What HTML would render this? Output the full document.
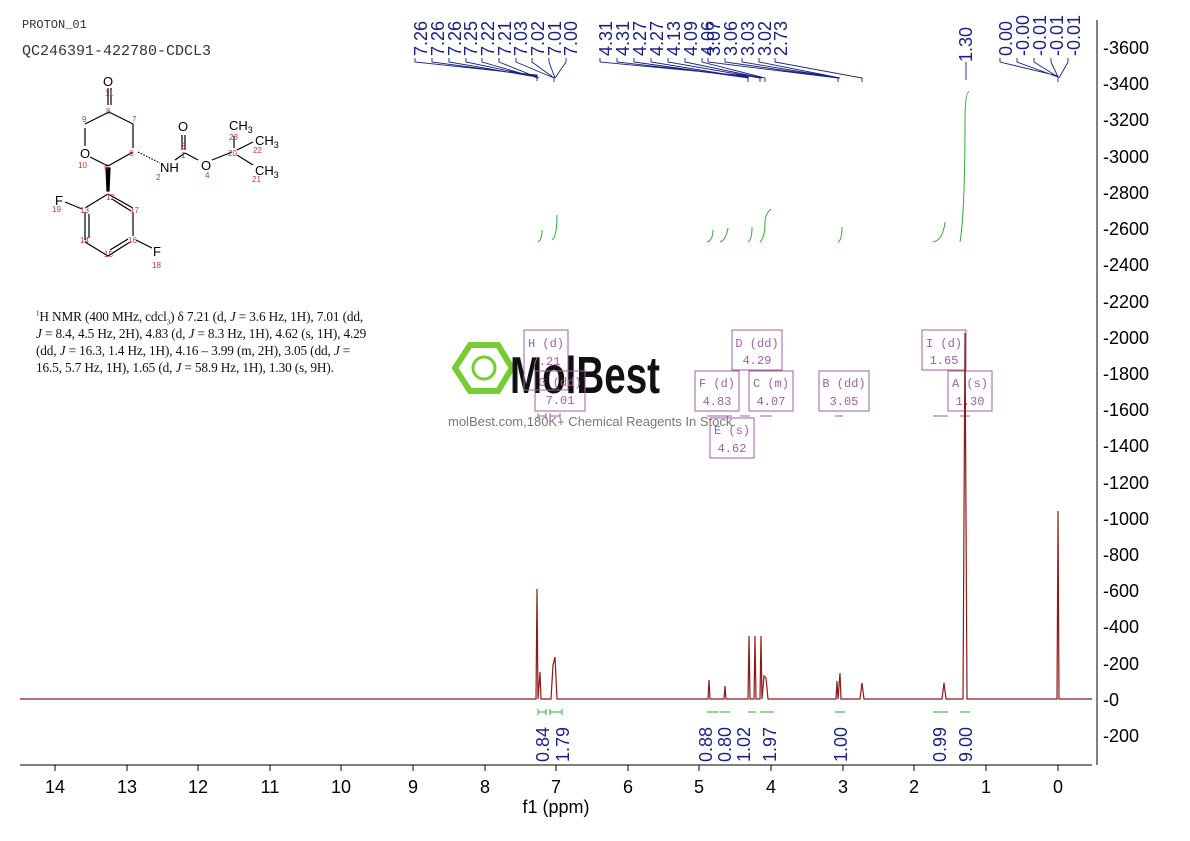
<!DOCTYPE html>
<html><head><meta charset="utf-8"><style>
body{margin:0;background:#fff;width:1190px;height:841px;overflow:hidden;font-family:"Liberation Sans",sans-serif}
.abs{position:absolute}
sup,sub{line-height:0;font-size:7px}
</style></head><body>
<div class="abs" style="left:22px;top:18px;font:12px 'Liberation Mono',monospace;color:#333">PROTON_01</div>
<div class="abs" style="left:22px;top:43px;font:15px 'Liberation Mono',monospace;color:#333">QC246391-422780-CDCL3</div>
<div class="abs" style="left:36px;top:308px;white-space:nowrap;font:13.3px/17px 'Liberation Serif',serif;letter-spacing:-0.15px;color:#111"><sup>1</sup>H NMR (400 MHz, cdcl<sub>3</sub>) δ 7.21 (d, <i>J</i> = 3.6 Hz, 1H), 7.01 (dd,<br><i>J</i> = 8.4, 4.5 Hz, 2H), 4.83 (d, <i>J</i> = 8.3 Hz, 1H), 4.62 (s, 1H), 4.29<br>(dd, <i>J</i> = 16.3, 1.4 Hz, 1H), 4.16 – 3.99 (m, 2H), 3.05 (dd, <i>J</i> =<br>16.5, 5.7 Hz, 1H), 1.65 (d, <i>J</i> = 58.9 Hz, 1H), 1.30 (s, 9H).</div>
<svg class="abs" style="left:0;top:0" width="1190" height="841" xmlns="http://www.w3.org/2000/svg" font-family="Liberation Sans, sans-serif">
<g stroke="#000" stroke-width="1.2" fill="none">
<line x1="108" y1="88" x2="108" y2="105"/><line x1="111" y1="88" x2="111" y2="105"/>
<line x1="109" y1="112" x2="85" y2="124"/><line x1="109" y1="112" x2="133" y2="124"/>
<line x1="85" y1="128" x2="85" y2="146"/><line x1="133" y1="124" x2="133" y2="148"/>
<line x1="90" y1="157" x2="108" y2="166"/><line x1="108" y1="166" x2="133" y2="152"/>
<line x1="138" y1="152" x2="160" y2="163" stroke-dasharray="1.5 1.5"/>
<line x1="175" y1="160" x2="185" y2="153"/><line x1="185" y1="153" x2="198" y2="160"/>
<line x1="182" y1="135" x2="182" y2="150"/><line x1="185" y1="135" x2="185" y2="150"/>
<line x1="212" y1="160" x2="232" y2="152"/><line x1="234" y1="148" x2="234" y2="136"/>
<line x1="237" y1="150" x2="253" y2="142"/><line x1="237" y1="155" x2="253" y2="165"/>
<polygon points="106,168 110,168 109,191 107,191" fill="#000"/>
<line x1="108" y1="194" x2="85" y2="208"/><line x1="108" y1="194" x2="133" y2="208"/><line x1="112" y1="199" x2="131" y2="211"/>
<line x1="85" y1="212" x2="85" y2="240"/><line x1="89" y1="214" x2="89" y2="238"/>
<line x1="133" y1="213" x2="133" y2="236"/><line x1="85" y1="242" x2="108" y2="256"/>
<line x1="108" y1="256" x2="130" y2="242"/><line x1="110" y1="250" x2="128" y2="239"/>
<line x1="136" y1="240" x2="152" y2="248"/><line x1="65" y1="202" x2="82" y2="209"/>
</g>
<g font-size="13" fill="#000"><text x="103" y="86">O</text><text x="80" y="158">O</text><text x="160" y="172">NH</text><text x="178" y="131">O</text><text x="201" y="170">O</text>
<text x="229" y="130">CH<tspan font-size="9" dy="3">3</tspan></text><text x="255" y="145">CH<tspan font-size="9" dy="3">3</tspan></text><text x="255" y="175">CH<tspan font-size="9" dy="3">3</tspan></text>
<text x="55" y="205">F</text><text x="153" y="256">F</text></g>
<g font-size="8" fill="#c33"><text x="105" y="96">11</text><text x="106" y="114">8</text><text x="82" y="122">9</text><text x="132" y="122">7</text><text x="78" y="168">10</text><text x="104" y="170">5</text><text x="129" y="156">6</text><text x="156" y="180">2</text><text x="181" y="149">3</text><text x="181" y="158">1</text><text x="205" y="178">4</text><text x="229" y="140">23</text><text x="228" y="156">20</text><text x="253" y="153">22</text><text x="252" y="182">21</text><text x="106" y="200">12</text><text x="80" y="213">13</text><text x="130" y="213">17</text><text x="80" y="243">14</text><text x="128" y="243">16</text><text x="104" y="257">15</text><text x="52" y="212">19</text><text x="152" y="268">18</text></g>
<line x1="20" y1="765" x2="1092" y2="765" stroke="#000"/>
<g stroke="#000"><line x1="55" y1="765" x2="55" y2="771"/><line x1="127" y1="765" x2="127" y2="771"/><line x1="198" y1="765" x2="198" y2="771"/><line x1="270" y1="765" x2="270" y2="771"/><line x1="341" y1="765" x2="341" y2="771"/><line x1="413" y1="765" x2="413" y2="771"/><line x1="485" y1="765" x2="485" y2="771"/><line x1="556" y1="765" x2="556" y2="771"/><line x1="628" y1="765" x2="628" y2="771"/><line x1="699" y1="765" x2="699" y2="771"/><line x1="771" y1="765" x2="771" y2="771"/><line x1="843" y1="765" x2="843" y2="771"/><line x1="914" y1="765" x2="914" y2="771"/><line x1="986" y1="765" x2="986" y2="771"/><line x1="1058" y1="765" x2="1058" y2="771"/></g>
<g font-size="18" text-anchor="middle" fill="#000"><text x="55" y="793">14</text><text x="127" y="793">13</text><text x="198" y="793">12</text><text x="270" y="793">11</text><text x="341" y="793">10</text><text x="413" y="793">9</text><text x="485" y="793">8</text><text x="556" y="793">7</text><text x="628" y="793">6</text><text x="699" y="793">5</text><text x="771" y="793">4</text><text x="843" y="793">3</text><text x="914" y="793">2</text><text x="986" y="793">1</text><text x="1058" y="793">0</text><text x="556" y="813">f1 (ppm)</text></g>
<line x1="1097" y1="20" x2="1097" y2="765" stroke="#000"/>
<g font-size="18" fill="#000">
<text x="1103" y="54">-3600</text><text x="1103" y="90">-3400</text><text x="1103" y="126">-3200</text><text x="1103" y="163">-3000</text><text x="1103" y="199">-2800</text><text x="1103" y="235">-2600</text><text x="1103" y="271">-2400</text><text x="1103" y="308">-2200</text><text x="1103" y="344">-2000</text><text x="1103" y="380">-1800</text><text x="1103" y="416">-1600</text><text x="1103" y="452">-1400</text><text x="1103" y="489">-1200</text><text x="1103" y="525">-1000</text><text x="1103" y="561">-800</text><text x="1103" y="597">-600</text><text x="1103" y="633">-400</text><text x="1103" y="670">-200</text><text x="1103" y="706">-0</text><text x="1103" y="742">-200</text></g>
<g><polygon points="455,368 470,345 498,345 512,368 498,391 470,391" fill="none" stroke="#7c3" stroke-width="6"/><circle cx="484" cy="368" r="11" fill="none" stroke="#7c3" stroke-width="3"/>
<text x="510" y="393" font-size="52" font-weight="bold" fill="#111" textLength="150" lengthAdjust="spacingAndGlyphs">MolBest</text>
<text x="448" y="426" font-size="13" fill="#777">molBest.com,180K+ Chemical Reagents In Stock.</text></g>
<g fill="none" stroke="#a060a0"><rect x="524" y="330" width="44" height="60"/><rect x="535" y="371" width="50" height="40"/><rect x="732" y="330" width="50" height="40"/><rect x="695" y="371" width="44" height="40"/><rect x="749" y="371" width="44" height="40"/><rect x="819" y="371" width="50" height="40"/><rect x="710" y="418" width="44" height="40"/><rect x="922" y="330" width="44" height="40"/><rect x="948" y="371" width="44" height="40"/></g>
<g font-family="Liberation Mono, monospace" font-size="12" fill="#a060a0" text-anchor="middle"><text x="546" y="347">H (d)</text><text x="546" y="365">7.21</text><text x="560" y="386">G (dd)</text><text x="560" y="404">7.01</text><text x="757" y="347">D (dd)</text><text x="757" y="364">4.29</text><text x="717" y="387">F (d)</text><text x="717" y="405">4.83</text><text x="771" y="387">C (m)</text><text x="771" y="405">4.07</text><text x="844" y="387">B (dd)</text><text x="844" y="405">3.05</text><text x="732" y="434">E (s)</text><text x="732" y="452">4.62</text><text x="944" y="347">I (d)</text><text x="944" y="364">1.65</text><text x="970" y="387">A (s)</text><text x="970" y="405">1.30</text></g>
<g stroke="#a060a0"><path d="M538 416h8M538 413v6M546 413v6M550 416h10M550 413v6M560 413v6M707 416h25M740 416h10M760 416h12M835 416h8M933 416h15M960 416h10"/></g>
<g stroke="#3a3" fill="none" stroke-width="1"><path d="M538 242 q4 -2 4 -12"/><path d="M552 240 q5 -4 5 -25"/><path d="M707 242 q6 -2 6 -12"/><path d="M720 242 q6 -2 8 -14"/><path d="M748 242 q4 -2 4 -15"/><path d="M760 242 q5 -5 5 -20 q0 -8 6 -13"/><path d="M838 242 q4 -2 4 -15"/><path d="M933 242 q10 -2 12 -20"/><path d="M960 242 q5 -30 5 -120 q0 -30 4 -30"/></g>
<g stroke="#3a3"><path d="M538 712h8M538 709v6M546 709v6M550 712h12M550 709v6M562 709v6M707 712h12M720 712h10M748 712h8M760 712h14M835 712h10M933 712h15M960 712h10"/></g>
<g font-size="18" fill="#1a237e"><g transform="translate(549,762) rotate(-90)"><text>0.84</text></g><g transform="translate(569,762) rotate(-90)"><text>1.79</text></g><g transform="translate(712,762) rotate(-90)"><text>0.88</text></g><g transform="translate(731,762) rotate(-90)"><text>0.80</text></g><g transform="translate(750,762) rotate(-90)"><text>1.02</text></g><g transform="translate(776,762) rotate(-90)"><text>1.97</text></g><g transform="translate(847,762) rotate(-90)"><text>1.00</text></g><g transform="translate(946,762) rotate(-90)"><text>0.99</text></g><g transform="translate(972,762) rotate(-90)"><text>9.00</text></g></g>
<g font-size="18" fill="#1a237e">
<g transform="translate(427,56) rotate(-90)"><text>7.26</text></g><g transform="translate(444,56) rotate(-90)"><text>7.26</text></g><g transform="translate(461,56) rotate(-90)"><text>7.26</text></g><g transform="translate(477,56) rotate(-90)"><text>7.25</text></g><g transform="translate(494,56) rotate(-90)"><text>7.22</text></g><g transform="translate(511,56) rotate(-90)"><text>7.21</text></g><g transform="translate(527,56) rotate(-90)"><text>7.03</text></g><g transform="translate(544,56) rotate(-90)"><text>7.02</text></g><g transform="translate(561,56) rotate(-90)"><text>7.01</text></g><g transform="translate(577,56) rotate(-90)"><text>7.00</text></g>
<g transform="translate(612,56) rotate(-90)"><text>4.31</text></g><g transform="translate(629,56) rotate(-90)"><text>4.31</text></g><g transform="translate(646,56) rotate(-90)"><text>4.27</text></g><g transform="translate(663,56) rotate(-90)"><text>4.27</text></g><g transform="translate(680,56) rotate(-90)"><text>4.13</text></g><g transform="translate(697,56) rotate(-90)"><text>4.09</text></g><g transform="translate(714,56) rotate(-90)"><text>4.06</text></g><g transform="translate(720,56) rotate(-90)"><text>3.07</text></g><g transform="translate(737,56) rotate(-90)"><text>3.06</text></g><g transform="translate(754,56) rotate(-90)"><text>3.03</text></g><g transform="translate(771,56) rotate(-90)"><text>3.02</text></g><g transform="translate(787,56) rotate(-90)"><text>2.73</text></g>
<g transform="translate(972,62) rotate(-90)"><text>1.30</text></g>
<g transform="translate(1012,56) rotate(-90)"><text>0.00</text></g><g transform="translate(1029,56) rotate(-90)"><text>-0.00</text></g><g transform="translate(1046,56) rotate(-90)"><text>-0.01</text></g><g transform="translate(1063,56) rotate(-90)"><text>-0.01</text></g><g transform="translate(1080,56) rotate(-90)"><text>-0.01</text></g></g>
<g stroke="#1a237e" fill="none" stroke-width="0.9"><path d="M966 62v18"/><path d="M415 58v4L537 75v6M432 58v4L537 76M449 58v4L537 77M466 58v4L538 77M482 58v4L538 78M499 58v4L539 78M516 58v4L554 78v4M532 58v4L554 78M549 58v4L555 78M566 58v4L555 78"/>
<path d="M600 58v4L748 76v6M617 58v4L748 77M634 58v4L749 78M651 58v4L749 78M668 58v4L760 78v4M685 58v4L762 78M702 58v4L765 78v4M708 58v4L838 78v4M725 58v4L838 78M742 58v4L839 78M759 58v4L840 78M775 58v4L862 78v4M1000 58v4L1058 76v6M1017 58v4L1058 77M1034 58v4L1058 77M1051 58v4L1058 77M1068 58v4L1059 78"/></g>
<polyline fill="none" stroke="#8b1a1a" stroke-width="1.2" points="20,699 536,699 537,589 538,699 540,672 541,699 551,699 553,665 555,657 557,699 708,699 709,680 710,699 724,699 725,686 726,699 748,699 749,636 750,699 754,699 755,636 756,699 760,699 761,636 762,699 764,676 766,678 768,699 836,699 837,681 838,699 840,673 841,699 860,699 862,683 864,699 942,699 944,683 946,699 963,699 965,333 967,699 1057,699 1058,511 1059,699 1092,699"/>
</svg>
</body></html>
